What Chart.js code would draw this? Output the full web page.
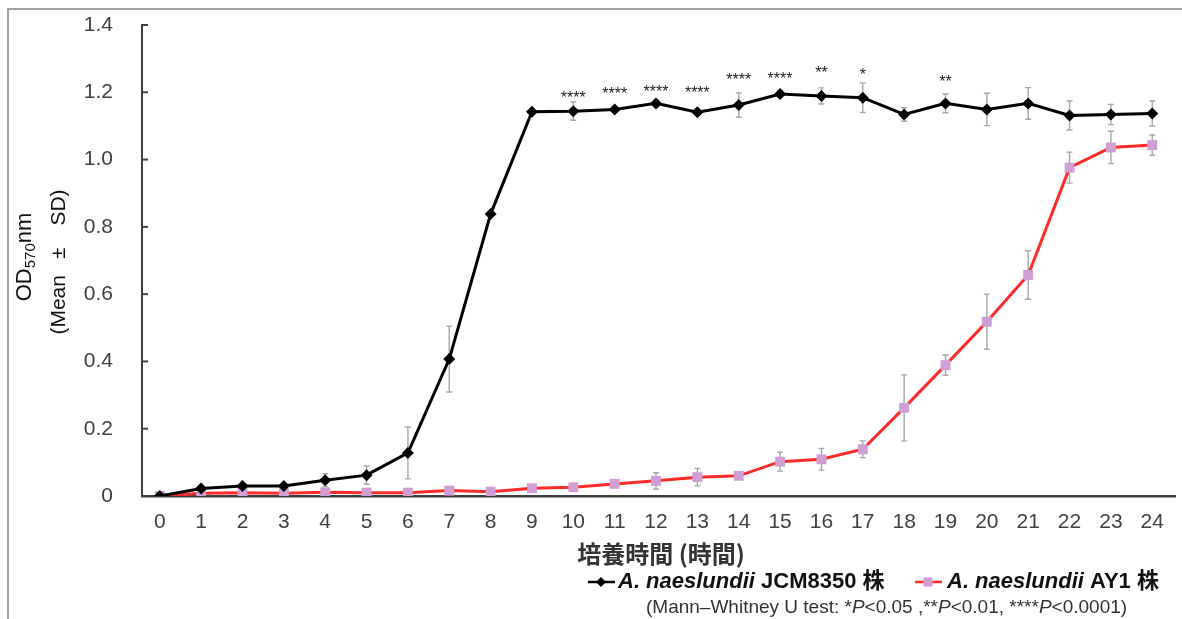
<!DOCTYPE html>
<html>
<head>
<meta charset="utf-8">
<script src="https://cdn.jsdelivr.net/npm/chart.js@4"></script>
<style>
  html, body { margin: 0; padding: 0; background: #fff; }
  #wrap { position: relative; width: 1182px; height: 619px; }
</style>
</head>
<body>
<div id="wrap"><canvas id="growthChart"></canvas></div>
<script>
// Growth curves, OD570nm (mean +- SD) over 24 h

var times = [0, 1, 2, 3, 4, 5, 6, 7, 8, 9, 10, 11, 12, 13, 14, 15, 16, 17, 18, 19, 20, 21, 22, 23, 24];

var jcmMean = [0, 0.022, 0.03, 0.03, 0.047, 0.062, 0.128, 0.407, 0.838, 1.142, 1.144, 1.149, 1.167, 1.141, 1.162,
  1.195, 1.189, 1.184, 1.134, 1.167, 1.149, 1.167, 1.131, 1.134, 1.137];
var jcmSd = [0, 0.004, 0.004, 0.004, 0.019, 0.027, 0.077, 0.098, 0.004, 0.004, 0.027, 0.008, 0.01, 0.008, 0.036,
  0.01, 0.024, 0.044, 0.02, 0.028, 0.048, 0.047, 0.043, 0.03, 0.037];

var ay1Mean = [0, 0.008, 0.01, 0.008, 0.011, 0.01, 0.01, 0.016, 0.013, 0.023, 0.026, 0.036, 0.045, 0.056, 0.06,
  0.102, 0.109, 0.139, 0.262, 0.389, 0.518, 0.657, 0.976, 1.036, 1.043];
var ay1Sd = [0, 0.003, 0.003, 0.003, 0.003, 0.003, 0.003, 0.003, 0.003, 0.005, 0.005, 0.008, 0.024, 0.026, 0.006,
  0.028, 0.032, 0.025, 0.098, 0.03, 0.082, 0.072, 0.046, 0.048, 0.03];

var yTicks = [0, 0.2, 0.4, 0.6, 0.8, 1.0, 1.2, 1.4];

// significance marks (time, label, height in OD units)
var sigTimes = [10, 11, 12, 13, 14, 15, 16, 17, 19];
var sigMarks = ['****', '****', '****', '****', '****', '****', '**', '*', '**'];
var sigLevel = [1.195, 1.207, 1.214, 1.21, 1.248, 1.252, 1.268, 1.262, 1.242];

var FONT = "'Liberation Sans', Arial, 'Noto Sans CJK JP', sans-serif";
var INK = '#404040';

function toPoints(means) {
  return times.map(function (t, i) { return { x: t, y: means[i] }; });
}

// draw a row of text pieces with different fonts
function drawRuns(ctx, x, y, runs) {
  runs.forEach(function (r) {
    ctx.font = r.f;
    ctx.fillText(r.t, x, y);
    x += ctx.measureText(r.t).width;
  });
  return x;
}

var decor = {
  id: 'decor',
  beforeDraw: function (chart) {
    var ctx = chart.ctx;
    ctx.save();
    ctx.strokeStyle = '#a3a3a3';
    ctx.lineWidth = 2;
    ctx.beginPath();
    ctx.moveTo(8, 619);
    ctx.lineTo(8, 9);
    ctx.lineTo(1182, 9);
    ctx.stroke();
    ctx.restore();
  },
  beforeDatasetsDraw: function (chart) {
    var ctx = chart.ctx;
    var xs = chart.scales.x, ys = chart.scales.y;
    var sets = [[jcmMean, jcmSd], [ay1Mean, ay1Sd]];
    ctx.save();
    ctx.strokeStyle = '#a8a8a8';
    ctx.lineWidth = 1.4;
    sets.forEach(function (s) {
      times.forEach(function (t, i) {
        if (!s[1][i]) return;
        var px = xs.getPixelForValue(t);
        var top = ys.getPixelForValue(s[0][i] + s[1][i]);
        var bot = ys.getPixelForValue(Math.max(0, s[0][i] - s[1][i]));
        ctx.beginPath();
        ctx.moveTo(px, top); ctx.lineTo(px, bot);
        ctx.moveTo(px - 3, top); ctx.lineTo(px + 3, top);
        ctx.moveTo(px - 3, bot); ctx.lineTo(px + 3, bot);
        ctx.stroke();
      });
    });
    ctx.restore();
  },
  afterDraw: function (chart) {
    var ctx = chart.ctx;
    var xs = chart.scales.x, ys = chart.scales.y;
    var area = chart.chartArea;
    ctx.save();

    // inward y ticks
    ctx.strokeStyle = INK;
    ctx.lineWidth = 2;
    yTicks.forEach(function (v) {
      var py = ys.getPixelForValue(v);
      ctx.beginPath();
      ctx.moveTo(area.left, py);
      ctx.lineTo(area.left + 6, py);
      ctx.stroke();
    });

    // asterisks
    ctx.fillStyle = '#222';
    ctx.font = '16px ' + FONT;
    ctx.textAlign = 'center';
    ctx.textBaseline = 'alphabetic';
    sigTimes.forEach(function (t, i) {
      ctx.fillText(sigMarks[i], xs.getPixelForValue(t), ys.getPixelForValue(sigLevel[i]) + 9);
    });

    // y title, line 1: OD570nm
    ctx.fillStyle = '#111';
    ctx.save();
    ctx.translate(25, 257);
    ctx.rotate(-Math.PI / 2);
    ctx.textBaseline = 'middle';
    ctx.textAlign = 'left';
    ctx.font = '22px ' + FONT;
    var w1 = ctx.measureText('OD').width;
    var w3 = ctx.measureText('nm').width;
    ctx.font = '15px ' + FONT;
    var w2 = ctx.measureText('570').width;
    var x0 = -(w1 + w2 + w3) / 2;
    ctx.font = '22px ' + FONT;
    ctx.fillText('OD', x0, 0);
    ctx.font = '15px ' + FONT;
    ctx.fillText('570', x0 + w1, 6);
    ctx.font = '22px ' + FONT;
    ctx.fillText('nm', x0 + w1 + w2, 0);
    ctx.restore();

    // y title, line 2: (Mean ± SD) with wide gaps round ±
    ctx.save();
    ctx.translate(59, 262);
    ctx.rotate(-Math.PI / 2);
    ctx.textBaseline = 'middle';
    ctx.textAlign = 'left';
    ctx.font = '21px ' + FONT;
    var pa = ctx.measureText('(Mean').width;
    var pb = ctx.measureText('\u00b1').width;
    var pc = ctx.measureText('SD)').width;
    var gapA = 16, gapB = 22;
    var s0 = -(pa + gapA + pb + gapB + pc) / 2;
    ctx.fillText('(Mean', s0, 0);
    ctx.fillText('\u00b1', s0 + pa + gapA, 0);
    ctx.fillText('SD)', s0 + pa + gapA + pb + gapB, 0);
    ctx.restore();

    // x title
    ctx.textAlign = 'center';
    ctx.textBaseline = 'middle';
    ctx.font = "bold 24px 'Noto Sans CJK JP', " + FONT;
    ctx.fillStyle = '#333';
    ctx.fillText('培養時間 (時間)', 661, 554);

    // legend
    ctx.textAlign = 'left';
    ctx.textBaseline = 'middle';
    var ly = 582;
    ctx.strokeStyle = '#000';
    ctx.lineWidth = 2.5;
    ctx.beginPath(); ctx.moveTo(588, ly); ctx.lineTo(615, ly); ctx.stroke();
    ctx.fillStyle = '#000';
    ctx.beginPath();
    ctx.moveTo(601, ly - 5); ctx.lineTo(606, ly); ctx.lineTo(601, ly + 5); ctx.lineTo(596, ly);
    ctx.closePath(); ctx.fill();
    ctx.fillStyle = '#111';
    drawRuns(ctx, 618, ly, [
      { t: 'A. naeslundii', f: 'italic bold 22px ' + FONT },
      { t: ' JCM8350 \u682a', f: 'bold 22px ' + FONT }
    ]);
    ctx.strokeStyle = '#ff2a2a';
    ctx.beginPath(); ctx.moveTo(915, ly); ctx.lineTo(942, ly); ctx.stroke();
    ctx.fillStyle = '#cf9fd3';
    ctx.fillRect(923.5, ly - 4.5, 9, 9);
    ctx.fillStyle = '#111';
    drawRuns(ctx, 947, ly, [
      { t: 'A. naeslundii', f: 'italic bold 22px ' + FONT },
      { t: ' AY1 \u682a', f: 'bold 22px ' + FONT }
    ]);

    // footnote
    ctx.fillStyle = '#333';
    var nf = '19px ' + FONT, itf = 'italic 19px ' + FONT;
    drawRuns(ctx, 646, 608, [
      { t: '(Mann\u2013Whitney U test: *', f: nf },
      { t: 'P', f: itf },
      { t: '<0.05 ,**', f: nf },
      { t: 'P', f: itf },
      { t: '<0.01, ****', f: nf },
      { t: 'P', f: itf },
      { t: '<0.0001)', f: nf }
    ]);
    ctx.restore();
  }
};

new Chart(document.getElementById('growthChart').getContext('2d'), {
  type: 'line',
  data: {
    datasets: [{
      label: 'A. naeslundii JCM8350 株',
      data: toPoints(jcmMean),
      borderColor: '#000',
      backgroundColor: '#000',
      borderWidth: 3,
      pointStyle: 'rectRot',
      pointRadius: 6,
      pointBorderWidth: 0,
      tension: 0
    }, {
      label: 'A. naeslundii AY1 株',
      data: toPoints(ay1Mean),
      borderColor: '#ff2a2a',
      backgroundColor: '#cf9fd3',
      borderWidth: 3,
      pointStyle: 'rect',
      pointRadius: 7,
      pointBorderWidth: 0,
      tension: 0
    }]
  },
  options: {
    responsive: true,
    maintainAspectRatio: false,
    animation: false,
    layout: { padding: { top: 25, right: 1, left: 0, bottom: 0 } },
    plugins: {
      legend: { display: false },
      tooltip: { enabled: false }
    },
    scales: {
      x: {
        type: 'linear',
        min: -0.43,
        max: 24.55,
        afterBuildTicks: function (s) { s.ticks = times.map(function (v) { return { value: v }; }); },
        afterFit: function (s) {
          s.height = 123;
          s.paddingTop = 0; s.paddingBottom = 0; s.paddingLeft = 0; s.paddingRight = 0;
        },
        grid: { drawOnChartArea: false, drawTicks: false },
        border: { color: INK, width: 2.5 },
        ticks: {
          color: INK,
          font: { size: 21, family: FONT },
          padding: 14,
          autoSkip: false,
          maxRotation: 0
        }
      },
      y: {
        min: 0,
        max: 1.4,
        afterBuildTicks: function (s) { s.ticks = yTicks.map(function (v) { return { value: v }; }); },
        afterFit: function (s) { s.width = 142; s.paddingTop = 0; s.paddingBottom = 0; },
        grid: { drawOnChartArea: false, drawTicks: false },
        border: { color: INK, width: 2 },
        ticks: {
          color: INK,
          font: { size: 21, family: FONT },
          padding: 29,
          callback: function (v) { return v === 0 ? '0' : v.toFixed(1); }
        }
      }
    }
  },
  plugins: [decor]
});
</script>
</body>
</html>
